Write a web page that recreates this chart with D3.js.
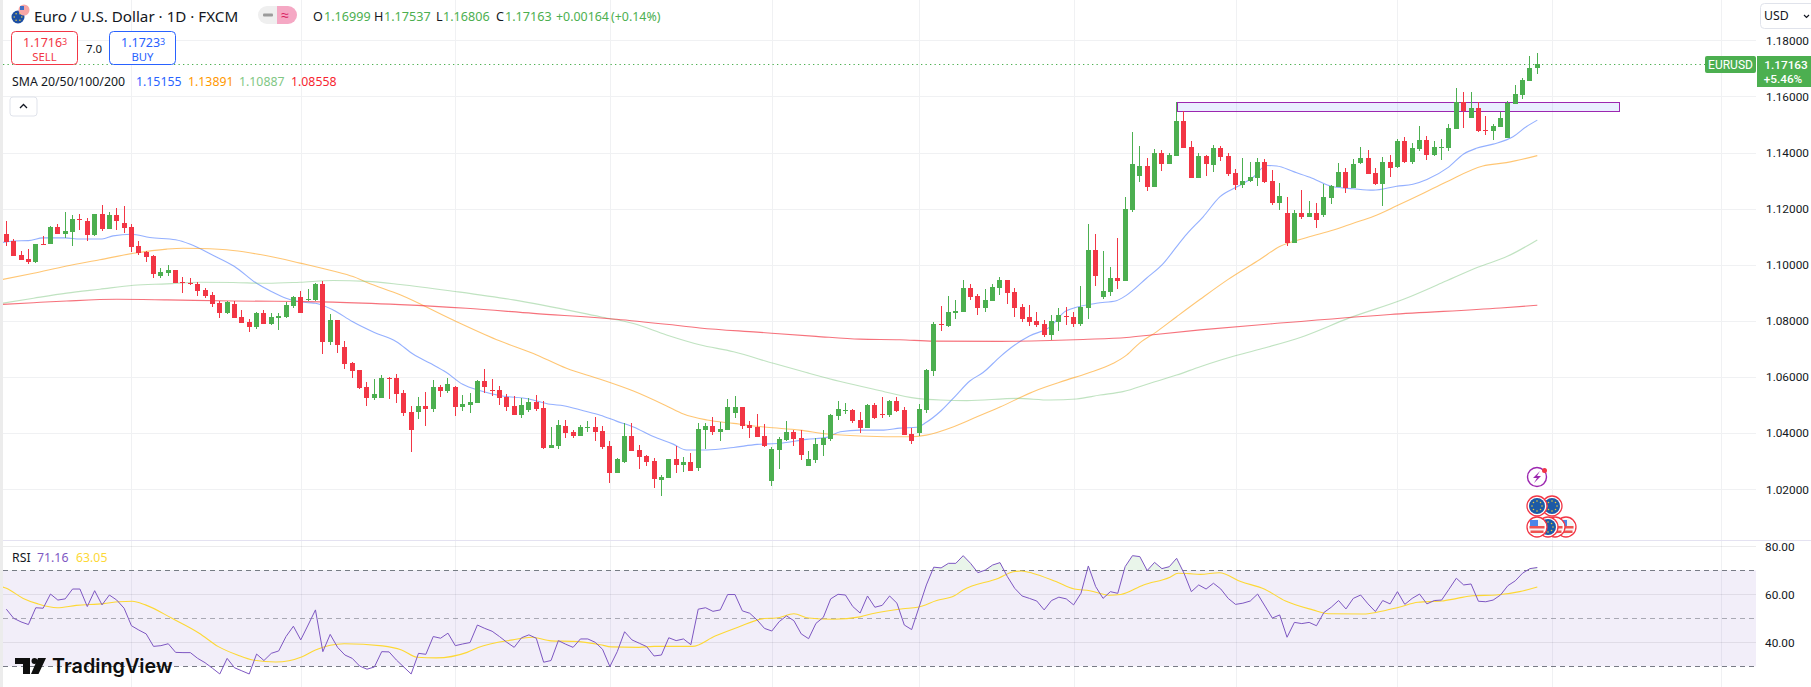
<!DOCTYPE html>
<html>
<head>
<meta charset="utf-8">
<script src="https://cdn.jsdelivr.net/npm/d3@7"></script>
<style>
  body { margin: 0; background: #fff; }
  text { font-family: "Noto Sans", sans-serif; }
</style>
</head>
<body>
<svg id="chart" width="1811" height="687"></svg>
<script>
// Daily EUR/USD candles
var opens = [
  1.1110,1.1085,1.1035,1.1021,1.1010,1.1074,1.1074,1.1135,1.1110,1.1117,
  1.1163,1.1156,1.1106,1.1181,1.1128,1.1178,1.1149,1.1135,1.1067,1.1046,
  1.1032,1.0960,1.0971,1.0982,1.0939,1.0934,1.0932,1.0911,1.0893,1.0864,
  1.0829,1.0861,1.0814,1.0797,1.0779,1.0829,1.0789,1.0811,1.0814,1.0854,
  1.0886,1.0875,1.0875,1.0932,1.0725,1.0804,1.0707,1.0650,1.0625,1.0565,
  1.0525,1.0525,1.0597,1.0597,1.0543,1.0475,1.0475,1.0497,1.0486,1.0565,
  1.0550,1.0565,1.0493,1.0500,1.0507,1.0586,1.0554,1.0554,1.0529,1.0497,
  1.0465,1.0483,1.0511,1.0490,1.0347,1.0354,1.0426,1.0404,1.0390,1.0418,
  1.0422,1.0408,1.0354,1.0258,1.0297,1.0390,1.0340,1.0319,1.0301,1.0233,
  1.0240,1.0308,1.0287,1.0297,1.0276,1.0411,1.0425,1.0404,1.0411,1.0472,
  1.0493,1.0429,1.0422,1.0390,1.0229,1.0340,1.0376,1.0404,1.0383,1.0283,
  1.0304,1.0358,1.0379,1.0461,1.0479,1.0483,1.0447,1.0418,1.0500,1.0468,
  1.0465,1.0515,1.0483,1.0397,1.0401,1.0483,1.0621,1.0789,1.0782,1.0828,
  1.0832,1.0917,1.0889,1.0846,1.0871,1.0917,1.0946,1.0903,1.0850,1.0814,
  1.0800,1.0789,1.0750,1.0796,1.0817,1.0814,1.0789,1.0846,1.1053,1.0885,
  1.0903,1.0953,1.0942,1.1195,1.1316,1.1352,1.1277,1.1398,1.1359,1.1388,
  1.1512,1.1420,1.1309,1.1388,1.1356,1.1416,1.1388,1.1327,1.1284,1.1299,
  1.1309,1.1366,1.1299,1.1220,1.1185,1.1078,1.1185,1.1170,1.1185,1.1177,
  1.1238,1.1277,1.1331,1.1274,1.1363,1.1381,1.1327,1.1288,1.1366,1.1347,
  1.1441,1.1366,1.1413,1.1445,1.1391,1.1416,1.1416,1.1484,1.1580,1.1523,
  1.1559,1.1480,1.1477,1.1491,1.1452,1.1573,1.1605,1.1655,1.16999
];
var highs = [
  1.1156,1.1092,1.1049,1.1056,1.1074,1.1103,1.1138,1.1145,1.1188,1.1178,
  1.1181,1.1167,1.1181,1.1213,1.1188,1.1203,1.1210,1.1145,1.1085,1.1049,
  1.1035,1.0988,1.1000,1.0982,1.0957,1.0953,1.0939,1.0918,1.0903,1.0871,
  1.0871,1.0871,1.0839,1.0807,1.0832,1.0839,1.0829,1.0829,1.0868,1.0889,
  1.0907,1.0914,1.0936,1.0942,1.0825,1.0804,1.0729,1.0654,1.0625,1.0582,
  1.0593,1.0607,1.0600,1.0611,1.0554,1.0497,1.0529,1.0547,1.0589,1.0572,
  1.0597,1.0568,1.0536,1.0543,1.0589,1.0629,1.0593,1.0568,1.0540,1.0532,
  1.0525,1.0525,1.0536,1.0515,1.0422,1.0447,1.0447,1.0411,1.0429,1.0443,
  1.0458,1.0426,1.0372,1.0312,1.0436,1.0436,1.0358,1.0322,1.0312,1.0251,
  1.0308,1.0354,1.0315,1.0329,1.0436,1.0436,1.0458,1.0440,1.0522,1.0532,
  1.0493,1.0443,1.0468,1.0433,1.0351,1.0386,1.0443,1.0411,1.0411,1.0336,
  1.0383,1.0411,1.0468,1.0515,1.0507,1.0486,1.0475,1.0504,1.0507,1.0529,
  1.0518,1.0529,1.0493,1.0418,1.0504,1.0629,1.0796,1.0853,1.0889,1.0875,
  1.0946,1.0931,1.0896,1.0914,1.0931,1.0956,1.0946,1.0917,1.0860,1.0857,
  1.0832,1.0803,1.0821,1.0846,1.0850,1.0832,1.0924,1.1145,1.1110,1.1049,
  1.0992,1.1095,1.1242,1.1473,1.1423,1.1381,1.1413,1.1409,1.1398,1.1580,
  1.1547,1.1441,1.1398,1.1391,1.1427,1.1423,1.1398,1.1341,1.1381,1.1366,
  1.1381,1.1377,1.1338,1.1292,1.1242,1.1195,1.1267,1.1227,1.1220,1.1288,
  1.1284,1.1363,1.1345,1.1377,1.1420,1.1409,1.1345,1.1384,1.1391,1.1448,
  1.1455,1.1434,1.1494,1.1459,1.1441,1.1448,1.1502,1.1630,1.1616,1.1616,
  1.1580,1.1530,1.1502,1.1546,1.1584,1.1641,1.1666,1.1744,1.17537
];
var lows = [
  1.1068,1.1031,1.1017,1.1003,1.1006,1.1072,1.1074,1.1110,1.1096,1.1067,
  1.1124,1.1085,1.1103,1.1121,1.1128,1.1124,1.1114,1.1046,1.1035,1.1010,
  1.0953,1.0953,1.0960,1.0936,1.0900,1.0928,1.0889,1.0882,1.0850,1.0811,
  1.0825,1.0811,1.0793,1.0761,1.0772,1.0789,1.0786,1.0768,1.0811,1.0846,
  1.0829,1.0871,1.0871,1.0682,1.0715,1.0686,1.0629,1.0597,1.0558,1.0497,
  1.0518,1.0525,1.0522,1.0507,1.0461,1.0333,1.0450,1.0425,1.0475,1.0529,
  1.0543,1.0461,1.0479,1.0472,1.0507,1.0543,1.0533,1.0500,1.0479,1.0465,
  1.0454,1.0475,1.0479,1.0344,1.0347,1.0344,1.0383,1.0383,1.0390,1.0404,
  1.0372,1.0344,1.0222,1.0258,1.0294,1.0336,1.0272,1.0283,1.0205,1.0176,
  1.0240,1.0258,1.0262,1.0265,1.0265,1.0343,1.0393,1.0372,1.0411,1.0454,
  1.0415,1.0383,1.0386,1.0351,1.0212,1.0272,1.0372,1.0354,1.0304,1.0283,
  1.0294,1.0319,1.0372,1.0447,1.0468,1.0436,1.0401,1.0418,1.0450,1.0454,
  1.0458,1.0475,1.0393,1.0361,1.0390,1.0472,1.0604,1.0764,1.0778,1.0807,
  1.0832,1.0874,1.0821,1.0832,1.0871,1.0892,1.0860,1.0814,1.0796,1.0782,
  1.0778,1.0743,1.0732,1.0764,1.0785,1.0778,1.0782,1.0807,1.0924,1.0878,
  1.0889,1.0914,1.0942,1.1188,1.1295,1.1263,1.1277,1.1334,1.1359,1.1388,
  1.1416,1.1309,1.1309,1.1316,1.1331,1.1370,1.1316,1.1267,1.1274,1.1295,
  1.1280,1.1291,1.1213,1.1195,1.1067,1.1078,1.1163,1.1170,1.1131,1.1170,
  1.1217,1.1277,1.1256,1.1274,1.1359,1.1324,1.1284,1.1209,1.1313,1.1345,
  1.1363,1.1359,1.1405,1.1373,1.1388,1.1373,1.1405,1.1484,1.1487,1.1523,
  1.1473,1.1462,1.1445,1.1491,1.1452,1.1573,1.1591,1.1655,1.16806
];
var closes = [
  1.1081,1.1031,1.1017,1.1010,1.1074,1.1072,1.1135,1.1110,1.1121,1.1163,
  1.1160,1.1106,1.1181,1.1128,1.1178,1.1156,1.1132,1.1064,1.1042,1.1028,
  1.0968,1.0975,1.0982,1.0936,1.0937,1.0931,1.0907,1.0889,1.0861,1.0829,
  1.0868,1.0811,1.0793,1.0779,1.0829,1.0789,1.0814,1.0818,1.0857,1.0886,
  1.0829,1.0878,1.0932,1.0725,1.0804,1.0715,1.0647,1.0622,1.0561,1.0525,
  1.0540,1.0597,1.0593,1.0540,1.0472,1.0411,1.0497,1.0486,1.0565,1.0550,
  1.0575,1.0493,1.0504,1.0511,1.0586,1.0565,1.0552,1.0525,1.0493,1.0465,
  1.0500,1.0511,1.0486,1.0347,1.0358,1.0429,1.0401,1.0390,1.0422,1.0422,
  1.0404,1.0351,1.0258,1.0308,1.0390,1.0336,1.0315,1.0297,1.0237,1.0244,
  1.0308,1.0287,1.0297,1.0265,1.0415,1.0425,1.0404,1.0415,1.0493,1.0493,
  1.0425,1.0418,1.0386,1.0354,1.0344,1.0379,1.0404,1.0379,1.0322,1.0308,
  1.0361,1.0383,1.0465,1.0486,1.0483,1.0443,1.0418,1.0500,1.0454,1.0465,
  1.0515,1.0479,1.0393,1.0372,1.0486,1.0625,1.0789,1.0785,1.0832,1.0835,
  1.0917,1.0885,1.0846,1.0874,1.0921,1.0946,1.0899,1.0846,1.0807,1.0796,
  1.0785,1.0750,1.0800,1.0821,1.0815,1.0789,1.0850,1.1053,1.0960,1.0907,
  1.0953,1.0942,1.1199,1.1359,1.1352,1.1277,1.1398,1.1359,1.1391,1.1512,
  1.1416,1.1309,1.1388,1.1359,1.1416,1.1384,1.1324,1.1284,1.1299,1.1313,
  1.1366,1.1295,1.1220,1.1245,1.1078,1.1185,1.1170,1.1185,1.1160,1.1241,
  1.1281,1.1331,1.1274,1.1359,1.1381,1.1324,1.1288,1.1366,1.1345,1.1441,
  1.1366,1.1416,1.1445,1.1391,1.1420,1.1420,1.1487,1.1580,1.1548,1.1559,
  1.1477,1.1478,1.1494,1.1523,1.1576,1.1609,1.1658,1.1701,1.17163
];

// Moving averages, read at a handful of bars each (bar number, price)
var sma20Bars = [-1,1,3,5,8,10,13,14.5,17,19.5,23,25,28,31,34,36,38,41,42,44.4,47,50,53,55.3,57.6,59.8,62,64.4,67,71,73.9,75.7,78.4,80.7,82.9,85.2,87.9,90.6,92.4,95.2,98.8,102,105.1,108.7,111.5,113.3,116,119.2,121.4,123.7,125,127,129,130.9,132.7,135,137,139,141.8,144,148.1,150.8,152.2,154.9,157.2,159,160.4,162.6,164.9,167.2,169.4,171.2,172.6,174.9,177.1,180.3,183,185.7,188.9,191.1,193,195.9,198,199.7,202,204.7,206.5,208];
var sma20Vals = [1.1077,1.1085,1.1086,1.1096,1.1096,1.1092,1.1092,1.1103,1.1109,1.1097,1.1089,1.1073,1.1035,1.0994,1.0934,1.0905,1.0881,1.0865,1.0863,1.0839,1.0798,1.0759,1.0726,1.0681,1.0649,1.0616,1.0574,1.0551,1.0534,1.0522,1.0503,1.0498,1.0480,1.0464,1.0443,1.0422,1.0388,1.0361,1.0340,1.0340,1.0349,1.0360,1.0364,1.0378,1.0385,1.0405,1.0411,1.0411,1.0418,1.0421,1.0439,1.0480,1.0534,1.0586,1.0616,1.0672,1.0714,1.0746,1.0779,1.0836,1.0863,1.0872,1.0892,1.0952,1.1005,1.1065,1.1110,1.1171,1.1243,1.1278,1.1312,1.1354,1.1352,1.1332,1.1312,1.1278,1.1271,1.1266,1.1280,1.1287,1.1304,1.1347,1.1395,1.1415,1.1430,1.1456,1.1492,1.15155];
var sma50Bars = [-1,3.7,8.2,12.7,17.3,21.8,24,26.3,30.8,35.4,39.9,44.4,47.1,49,53.5,60.7,67,71.6,76.1,80.7,85.2,89.7,92,95.2,98.8,103.3,107.8,111.5,116,122.8,125,128.7,131.4,135,139.5,144,146.8,150.4,152.2,154,156.3,159,162.2,166,170.3,173,176.7,180.3,183,185.7,188.9,192.3,195.7,200.6,203.8,208];
var sma50Vals = [1.0945,1.0970,1.0996,1.1018,1.1041,1.1056,1.1059,1.1058,1.1051,1.1032,1.1006,1.0978,1.0958,1.0937,1.0893,1.0803,1.0729,1.0684,1.0631,1.0592,1.0550,1.0497,1.0468,1.0447,1.0435,1.0421,1.0411,1.0397,1.0390,1.0387,1.0393,1.0423,1.0453,1.0493,1.0548,1.0589,1.0613,1.0649,1.0678,1.0722,1.0762,1.0815,1.0877,1.0948,1.1019,1.1065,1.1097,1.1124,1.1148,1.1172,1.1210,1.1252,1.1296,1.1352,1.1364,1.13891];
var sma100Bars = [-1,3.7,8.2,12.7,17.3,21.8,26.3,30.8,35.4,39.9,44.4,49,53.5,61,68.9,80.7,85.2,89.7,94.2,98.8,104.2,108.7,113.3,118.3,123.7,126.9,130.5,137.3,141.8,145.4,148.6,151.7,155.4,159,162.2,165,170,176,182.4,190,195,200,204,208];
var sma100Vals = [1.0861,1.0881,1.0899,1.0913,1.0927,1.0932,1.0938,1.0937,1.0934,1.0938,1.0944,1.0941,1.0930,1.0905,1.0875,1.0815,1.0791,1.0750,1.0715,1.0690,1.0649,1.0616,1.0584,1.0554,1.0524,1.0518,1.0516,1.0524,1.0518,1.0522,1.0536,1.0548,1.0578,1.0607,1.0637,1.0661,1.0697,1.0743,1.0810,1.0879,1.0935,1.0992,1.1031,1.10887];
var sma200Bars = [-1,3.7,8.2,15,21.8,30.8,39.9,44.4,53.5,62.5,71.6,82.9,89.7,94.2,102,110,116,121.4,126,135,141.8,146.3,152.2,155.8,162.2,172,188,203,208];
var sma200Vals = [1.0858,1.0865,1.0871,1.0877,1.0875,1.0871,1.0869,1.0867,1.0858,1.0845,1.0827,1.0806,1.0788,1.0775,1.0760,1.0745,1.0735,1.0733,1.0728,1.0727,1.0730,1.0734,1.0741,1.0751,1.0768,1.0790,1.0823,1.0846,1.08558];

// RSI, one value per bar
var rsiVals = [
  53.8,50.0,48.5,47.4,54.4,54.2,60.1,57.6,58.1,62.2,
  62.2,54.9,61.5,55.6,59.7,57.6,54.2,46.9,45.1,43.5,
  38.3,38.6,39.4,35.8,35.7,35.7,33.3,31.5,29.2,26.8,
  33.3,29.4,28.1,26.8,35.1,32.4,35.4,36.4,42.4,46.7,
  41.0,47.2,53.5,36.1,43.3,37.9,34.7,33.3,30.1,28.8,
  29.7,36.1,36.0,32.6,29.7,26.8,35.4,35.0,42.4,41.7,
  43.8,38.6,39.3,39.9,47.2,45.8,44.6,42.4,40.0,37.9,
  41.9,43.1,41.7,31.7,32.4,40.7,39.2,37.9,41.4,41.4,
  40.0,37.1,29.9,36.1,44.4,41.0,39.6,38.2,34.3,34.7,
  41.9,40.7,41.4,39.0,53.8,54.4,52.9,53.5,59.9,59.9,
  53.1,52.1,49.3,45.8,44.7,48.6,51.0,49.0,43.5,41.5,
  47.9,50.4,58.1,60.0,59.7,54.9,52.2,59.3,54.6,55.4,
  59.3,56.3,47.2,45.3,54.6,63.9,71.3,71.0,72.9,72.9,
  76.1,72.9,69.0,70.1,72.2,73.2,67.4,62.5,59.3,58.3,
  57.2,53.5,57.4,58.8,58.1,55.6,60.4,71.8,63.2,58.3,
  61.1,60.4,71.5,76.1,75.7,69.9,73.3,70.7,71.5,75.0,
  68.8,61.1,63.9,62.2,64.6,62.2,58.3,55.8,56.3,57.2,
  60.1,55.1,50.1,51.4,42.1,48.3,47.8,48.3,46.9,52.4,
  54.6,57.4,53.9,58.3,59.7,56.0,52.8,57.4,56.0,61.1,
  55.8,58.3,60.1,56.0,57.4,57.6,62.1,66.7,63.9,64.3,
  57.1,56.9,57.6,59.7,63.6,65.6,68.8,70.7,71.16
];
var rsiMaBars = [-1,0,2.3,4.3,6.9,9.5,13.2,15.3,17.1,18.9,22.5,26.2,28.8,31.4,33.5,36.6,40.2,42,45.9,51.1,53.7,55.8,58.4,62.6,64.1,68.8,71.4,74,77.1,80.7,82.2,85.9,88,93.2,96.3,99.4,103,104.6,107,109,112.4,116,117.6,121.8,123.8,126.4,128.8,130,134.8,136.8,137.9,139.4,142.6,145.1,147.2,149.8,151.4,154.5,158.1,159.2,160.7,162.2,164.8,167.7,170.9,173.8,177.5,179.6,184.4,186.2,189.2,191.8,195,197.1,199.2,202.4,205.6,208];
var rsiMaVals = [63.5,62.5,58.3,56.0,54.4,55.4,56.1,56.9,57.1,55.6,50.0,43.8,38.2,34.7,32.6,31.8,34.0,36.8,39.4,38.5,36.8,33.8,33.5,35.8,37.8,41.0,42.1,40.6,40.4,39.0,38.1,37.9,38.3,38.3,42.6,46.3,49.9,50.1,51.9,50.1,49.6,50.6,51.9,54.0,54.6,57.4,59.4,61.8,66.7,69.4,69.7,68.8,65.3,62.2,61.5,59.6,59.9,63.9,67.1,68.8,68.6,68.3,69.0,65.3,62.2,57.2,53.5,51.9,51.8,52.5,54.6,56.7,57.2,58.3,59.4,59.7,61.1,63.05];

// Axis ticks and the month boundaries behind the chart (in bar numbers)
var priceTicks = [1.02,1.04,1.06,1.08,1.10,1.12,1.14,1.16,1.18];
var rsiGridTicks = [40,60,80];
var monthBars = [17,40,61,82,104,124,145,167,189,210,233];

// The purple zone drawn on the chart
var zoneBars = [159,219];
var zonePrices = [1.1548,1.1580];

var lastPrice = 1.17163;
var upColor = "#4caf50", downColor = "#f23645";

var svg = d3.select("#chart");
var paneRight = 1756;

var x = d3.scaleLinear().domain([0,208]).range([6.33,1537.3]);
var y = d3.scaleLinear().domain([1.02,1.18]).range([489.3,40.3]);
var yRsi = d3.scaleLinear().domain([30,80]).range([666.3,546.3]);

svg.append("rect").attr("width",3).attr("height",687).attr("fill","#ececec");

// Grid
var grid = svg.append("g").attr("stroke","#f0f1f3").attr("stroke-width",1);
grid.selectAll("line.m").data(monthBars).join("line")
  .attr("x1",d => Math.round(x(d))+0.5).attr("x2",d => Math.round(x(d))+0.5)
  .attr("y1",0).attr("y2",687);
grid.selectAll("line.p").data(priceTicks).join("line").attr("class","p")
  .attr("x1",3).attr("x2",paneRight)
  .attr("y1",d => Math.round(y(d))+0.5).attr("y2",d => Math.round(y(d))+0.5);

// RSI pane background and levels
svg.append("line").attr("x1",3).attr("x2",1811).attr("y1",540.5).attr("y2",540.5).attr("stroke","#e4e2f1");
svg.append("rect").attr("x",3).attr("width",paneRight-3)
  .attr("y",yRsi(70)).attr("height",yRsi(30)-yRsi(70))
  .attr("fill","#7e57c2").attr("fill-opacity",0.1);
svg.append("g").attr("stroke","#2a2e39").attr("stroke-opacity",0.09).selectAll("line")
  .data(rsiGridTicks).join("line")
  .attr("x1",3).attr("x2",paneRight)
  .attr("y1",d => Math.round(yRsi(d))+0.5).attr("y2",d => Math.round(yRsi(d))+0.5);
[[70,"#787b86",1],[50,"#787b86",0.6],[30,"#787b86",1]].forEach(function(l) {
  svg.append("line").attr("x1",3).attr("x2",paneRight)
    .attr("y1",Math.round(yRsi(l[0]))+0.5).attr("y2",Math.round(yRsi(l[0]))+0.5)
    .attr("stroke",l[1]).attr("stroke-opacity",l[2]).attr("stroke-dasharray","5,4");
});

// Last price line
svg.append("line").attr("x1",3).attr("x2",1705)
  .attr("y1",Math.round(y(lastPrice))+0.5).attr("y2",Math.round(y(lastPrice))+0.5)
  .attr("stroke",upColor).attr("stroke-dasharray","1.3,3.2").attr("stroke-width",1.2);

// Zone rectangle
svg.append("rect")
  .attr("x",Math.round(x(zoneBars[0]))+0.5).attr("width",Math.round(x(zoneBars[1])-x(zoneBars[0])))
  .attr("y",Math.round(y(zonePrices[1]))+0.5).attr("height",Math.round(y(zonePrices[0])-y(zonePrices[1])))
  .attr("fill","#2962ff").attr("fill-opacity",0.1)
  .attr("stroke","#9c27b0").attr("stroke-width",1);

// Moving averages
var smaLine = d3.line().x(d => x(d[0])).y(d => y(d[1])).curve(d3.curveMonotoneX);
var clip = svg.append("clipPath").attr("id","pane").append("rect")
  .attr("x",3).attr("y",0).attr("width",paneRight-3).attr("height",540);
[[sma20Bars,sma20Vals,"#2962ff",0.5],[sma50Bars,sma50Vals,"#ff9800",0.55],
 [sma100Bars,sma100Vals,"#81c784",0.5],[sma200Bars,sma200Vals,"#f23645",0.7]].forEach(function(s) {
  svg.append("path")
    .attr("d",smaLine(s[0].map((b,i) => [b,s[1][i]])))
    .attr("fill","none").attr("stroke",s[2]).attr("stroke-opacity",s[3]).attr("stroke-width",1.1)
    .attr("clip-path","url(#pane)");
});

// Candles
var candles = svg.append("g").selectAll("g").data(opens).join("g")
  .attr("fill",(d,i) => closes[i] >= opens[i] ? upColor : downColor);
candles.append("rect")
  .attr("x",(d,i) => Math.round(x(i)-2.5)+2).attr("width",1)
  .attr("y",(d,i) => Math.round(y(highs[i])))
  .attr("height",(d,i) => Math.max(1,Math.round(y(lows[i]))-Math.round(y(highs[i]))));
candles.append("rect")
  .attr("x",(d,i) => Math.round(x(i)-2.5)).attr("width",5)
  .attr("y",(d,i) => Math.round(y(Math.max(opens[i],closes[i]))))
  .attr("height",(d,i) => Math.max(1,Math.round(y(Math.min(opens[i],closes[i])))-Math.round(y(Math.max(opens[i],closes[i])))));

// RSI: green fill above 70, then the two lines
var rsiPts = rsiVals.map((v,i) => [i,v]);
svg.append("clipPath").attr("id","over").append("rect")
  .attr("x",3).attr("y",yRsi(80)).attr("width",paneRight-3).attr("height",yRsi(70)-yRsi(80));
svg.append("path")
  .attr("d",d3.area().x(d => x(d[0])).y0(yRsi(70)).y1(d => yRsi(d[1]))(rsiPts))
  .attr("fill",upColor).attr("fill-opacity",0.12).attr("clip-path","url(#over)");
var rsiLine = d3.line().x(d => x(d[0])).y(d => yRsi(d[1]));
svg.append("clipPath").attr("id","pane2").append("rect").attr("x",3).attr("y",541).attr("width",paneRight-3).attr("height",146);
svg.append("path").attr("d",d3.line().x(d => x(d[0])).y(d => yRsi(d[1])).curve(d3.curveMonotoneX)(rsiMaBars.map((b,i) => [b,rsiMaVals[i]])))
  .attr("fill","none").attr("stroke","#fdd835").attr("stroke-width",1.1).attr("clip-path","url(#pane2)");
svg.append("path").attr("d",rsiLine(rsiPts))
  .attr("fill","none").attr("stroke","#7e57c2").attr("stroke-width",1);

// Price and RSI axes
var priceAxis = svg.append("g").attr("transform","translate(1757,0)")
  .call(d3.axisRight(y).tickValues(priceTicks).tickSize(0).tickPadding(9).tickFormat(d3.format(".5f")));
var rsiAxis = svg.append("g").attr("transform","translate(1757,0)")
  .call(d3.axisRight(yRsi).tickValues(rsiGridTicks).tickSize(0).tickPadding(8).tickFormat(d3.format(".2f")));
[priceAxis,rsiAxis].forEach(function(a) {
  a.select(".domain").remove();
  a.selectAll("text").attr("fill","#131722").style("font-size","11.8px").style("font-family",'Roboto, sans-serif');
});

// Last price tags
svg.append("rect").attr("x",1705).attr("y",56).attr("width",51).attr("height",17).attr("rx",2).attr("fill",upColor);
svg.append("rect").attr("x",1757).attr("y",56).attr("width",54).attr("height",31).attr("fill",upColor);
function label(txt,px,py,size,color,anchor,weight) {
  return svg.append("text").attr("x",px).attr("y",py).text(txt)
    .attr("fill",color).style("font-size",size+"px")
    .attr("text-anchor",anchor || "start").attr("font-weight",weight || 400);
}
label("EURUSD",1730.5,69,12,"#fff","middle").style("font-family","Roboto, sans-serif");
label("1.17163",1786,69,11.8,"#fff","middle",500).style("font-family","Roboto, sans-serif");
label("+5.46%",1783,83,11.8,"#fff","middle",500).style("font-family","Roboto, sans-serif");

// Header
label("Euro / U.S. Dollar · 1D · FXCM",34,21.5,15.2,"#131722");
label("O",313,20.5,12.6,"#131722");
label("1.16999",324,20.5,12.6,upColor);
label("H",374,20.5,12.6,"#131722");
label("1.17537",384,20.5,12.6,upColor);
label("L",436,20.5,12.6,"#131722");
label("1.16806",443,20.5,12.6,upColor);
label("C",496,20.5,12.6,"#131722");
label("1.17163",505,20.5,12.6,upColor);
label("+0.00164",556,20.5,12.4,upColor);
label("(+0.14%)",611,20.5,12.4,upColor);

// Symbol icon: euro disc with a small flag corner
svg.append("circle").attr("cx",18).attr("cy",17).attr("r",6.5).attr("fill","#1d4fa3");
svg.append("circle").attr("cx",24).attr("cy",10).attr("r",5.5).attr("fill","#f7a6a6");
svg.append("rect").attr("x",20).attr("y",6).attr("width",4).attr("height",4).attr("fill","#3f6ec4");
d3.range(6).forEach(function(k) {
  var a = k*Math.PI/3;
  svg.append("circle").attr("cx",18+3.8*Math.cos(a)).attr("cy",17+3.8*Math.sin(a)).attr("r",0.7).attr("fill","#f6d743");
});

// Status pill
svg.append("path").attr("d","M277 6H267a9 9 0 0 0 0 18H277Z").attr("fill","#efefef");
svg.append("path").attr("d","M277 6H288a9 9 0 0 1 0 18H277Z").attr("fill","#f5a8c4");
svg.append("rect").attr("x",263).attr("y",13.5).attr("width",10).attr("height",3).attr("rx",1).attr("fill","#9b9b9b");
label("≈",285,20,14,"#d81b60","middle");

// Sell / buy boxes
svg.append("rect").attr("x",11.5).attr("y",31.5).attr("width",66).attr("height",33).attr("rx",4).attr("fill","#fff").attr("stroke",downColor);
svg.append("rect").attr("x",109.5).attr("y",31.5).attr("width",66).attr("height",33).attr("rx",4).attr("fill","#fff").attr("stroke","#2962ff");
label("1.1716",23,46.5,12.5,downColor);
label("3",62,45,9,downColor);
label("SELL",44.5,60.5,11.3,downColor,"middle");
label("7.0",94,53,11.5,"#131722","middle");
label("1.1723",121,46.5,12.5,"#2962ff");
label("3",160,45,9,"#2962ff");
label("BUY",142.5,60.5,11.3,"#2962ff","middle");

// SMA legend
label("SMA 20/50/100/200",12,86,12.3,"#131722");
label("1.15155",136,86,12.3,"#2962ff");
label("1.13891",188,86,12.3,"#ff9800");
label("1.10887",239,86,12.3,"#81c784");
label("1.08558",291,86,12.3,"#f7252f");

// Collapse button and currency button
svg.append("rect").attr("x",10).attr("y",97).attr("width",27).attr("height",19).attr("rx",3).attr("fill","#fff").attr("stroke","#e0e3eb");
svg.append("path").attr("d","M20 108L23.5 104.5L27 108").attr("fill","none").attr("stroke","#131722").attr("stroke-width",1.3);
svg.append("rect").attr("x",1760.5).attr("y",3.5).attr("width",55).attr("height",25).attr("rx",4).attr("fill","#fff").attr("stroke","#e0e3eb");
label("USD",1764,20,12.3,"#131722");
svg.append("path").attr("d","M1804 15L1806.5 17.5L1809 15").attr("fill","none").attr("stroke","#131722").attr("stroke-width",1.2);

// RSI legend
label("RSI",12,562,12.3,"#131722");
label("71.16",37,562,12.3,"#7e57c2");
label("63.05",76,562,12.3,"#fdd835");

// TradingView logo
svg.append("path").attr("d","M15 658H30V674H23V664H15Z").attr("fill","#0f0f0f");
svg.append("circle").attr("cx",34.5).attr("cy",661).attr("r",3).attr("fill","#0f0f0f");
svg.append("path").attr("d","M38 658H46L38.5 674H31Z").attr("fill","#0f0f0f");
label("TradingView",52,672.5,19.8,"#0f0f0f","start",600).style("font-family","Inter, sans-serif");

// Event markers near the last bar
var markers = svg.append("g");
markers.append("circle").attr("cx",1537).attr("cy",477).attr("r",9.5).attr("fill","#fff").attr("stroke","#9c27b0").attr("stroke-width",1.4);
markers.append("path").attr("d","M1540 471L1533 478H1537L1534 483L1541 476H1537Z").attr("fill","#9c27b0");
markers.append("circle").attr("cx",1544.5).attr("cy",470.5).attr("r",2.5).attr("fill","#f23645");
function flag(cx,cy,kind) {
  markers.append("circle").attr("cx",cx).attr("cy",cy).attr("r",10).attr("fill","#fff").attr("stroke","#f23645").attr("stroke-width",1.3);
  if (kind === "eu") {
    markers.append("circle").attr("cx",cx).attr("cy",cy).attr("r",8).attr("fill","#1c5aa6");
    d3.range(8).forEach(function(k) {
      var a = k*Math.PI/4;
      markers.append("circle").attr("cx",cx+5*Math.cos(a)).attr("cy",cy+5*Math.sin(a)).attr("r",0.8).attr("fill","#e9c83a");
    });
  } else {
    markers.append("circle").attr("cx",cx).attr("cy",cy).attr("r",8).attr("fill","#f4f4f4");
    markers.append("rect").attr("x",cx-7.5).attr("y",cy-1).attr("width",15).attr("height",2.5).attr("fill","#ef5350");
    markers.append("rect").attr("x",cx-6.5).attr("y",cy+3.5).attr("width",13).attr("height",2.5).attr("fill","#ef5350");
    markers.append("rect").attr("x",cx-7).attr("y",cy-7).attr("width",8).attr("height",6).attr("fill","#4a86e8");
  }
}
flag(1552,506,"eu");
flag(1537,506,"eu");
flag(1566,527,"us");
flag(1555,527,"us");
flag(1548,527,"eu");
flag(1537,527,"us");
</script>
</body>
</html>
